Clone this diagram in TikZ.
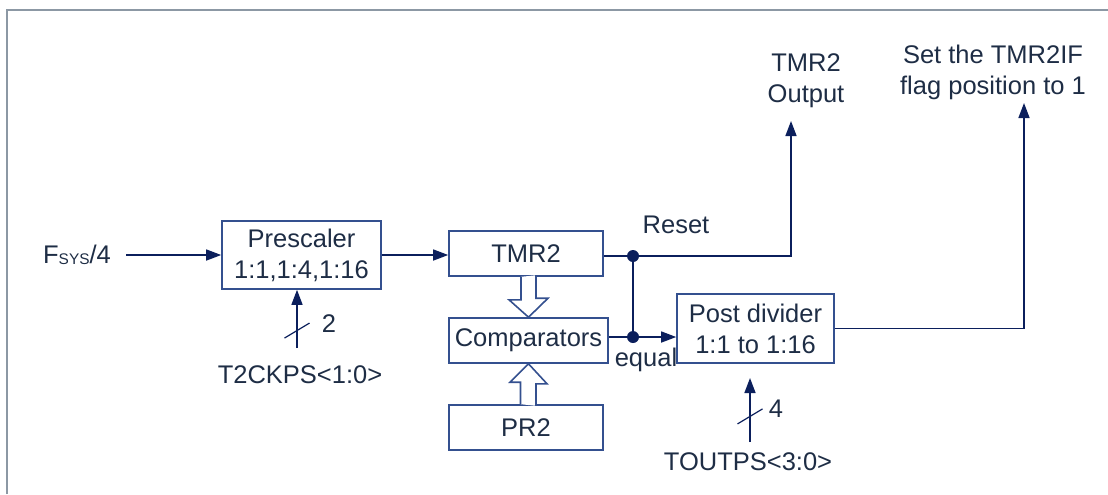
\documentclass[tikz,border=0pt]{standalone}
\usepackage{fontspec}
\setmainfont{Liberation Sans}
\definecolor{LineBlue}{HTML}{0B1F5C}
\definecolor{BoxBlue}{HTML}{34508F}
\definecolor{TextInk}{HTML}{1E2D45}
\definecolor{FrameGray}{HTML}{8C98A4}
\usetikzlibrary{arrows.meta, calc, decorations.markings}
\tikzset{
    blk/.style={draw=BoxBlue, line width=0.8pt, text=TextInk,
        font=\fontsize{12.75}{15.5}\selectfont, align=center, inner sep=0pt,
        minimum width=77pt, minimum height=22.5pt},
    lbl/.style={text=TextInk, font=\fontsize{12.75}{15.5}\selectfont,
        align=center, inner sep=0pt},
    wire/.style={draw=LineBlue, line width=0.75pt},
    sig/.style={wire, -{Triangle[length=7.5pt, width=5.5pt]}},
    hollow/.style={draw=BoxBlue, line width=0.8pt, fill=white},
    frame/.style={draw=FrameGray, line width=1pt},
    bus tick/.style={
        decoration={markings, mark=at position #1 with {
            \draw[-, LineBlue, line width=0.6pt] (-3.75pt,6.25pt) -- (3.75pt,-6.25pt);
        }}, postaction={decorate}
    }
}
\begin{document}
\begin{tikzpicture}[x=0.5pt, y=-0.5pt]
\useasboundingbox (0,0) rectangle (1108,494);

% Marco
\draw[frame] (7,494) -- (7,10) -- (1108,10);

% Bloques
\node[blk, minimum width=79.5pt, minimum height=34pt] (pre) at (301.5,255) {Prescaler\\1:1,1:4,1:16};
\node[blk] (tmr) at (526,253.5) {TMR2};
\node[blk, minimum width=79.5pt] (cmp) at (528.5,340.5) {Comparators};
\node[blk] (pr) at (526,427.5) {PR2};
\node[blk, minimum width=78.5pt, minimum height=34.5pt] (post) at (755.5,328.5) {Post divider\\1:1 to 1:16};

% Textos
\node[lbl] (fsys) at (77,255) {F{\fontsize{7.7}{8}\selectfont\raisebox{-0.5pt}{SYS}}/4};
\node[lbl] (t2ck) at (300,375) {T2CKPS<1:0>};
\node[lbl] (two) at (329,324) {2};
\node[lbl] (reset) at (676,225) {Reset};
\node[lbl] (equal) at (646,360) {equal};
\node[lbl] (tout) at (748,462) {TOUTPS<3:0>};
\node[lbl] (four) at (776,409) {4};
\node[lbl] (tmrout) at (806,81) {TMR2\\Output};
\node[lbl] (flag) at (993,72) {Set the TMR2IF\\flag position to 1};

\coordinate (dot1) at (633,256);
\coordinate (dot2) at (633,337);
\coordinate (outtip) at (791,121);
\coordinate (flagtip) at (1024,103);
\coordinate (t2in) at (297,348);
\coordinate (toutin) at (750,442);
\coordinate (toutend) at (750,378);

% Flechas huecas, luego de los bloques para tapar sus bordes
\draw[hollow] (cmp.north |- tmr.south) ++(-7.5,0) -- ++(0,23) -- ++(-12,0) -- (cmp.north)
    -- ++(19.5,-19) -- ++(-12,0) -- ++(0,-23);
\draw[hollow] (cmp.south |- pr.north) ++(-8,0) -- ++(0,-22) -- ++(-10.5,0) -- (cmp.south)
    -- ++(18.5,20) -- ++(-11,0) -- ++(0,22);

% Senales
\draw[sig, shorten <=7.5pt] (fsys.east) -- (pre.west);
\draw[sig] (pre.east) -- (pre.east -| tmr.west);
\draw[wire] (tmr.east |- dot1) -- (dot1);
\draw[wire] (dot1) -- (dot2);
\draw[wire] (cmp.east |- dot2) -- (dot2);
\draw[sig] (dot2) -- (dot2 -| post.west);
\draw[sig] (dot1) -| (outtip);
\draw[sig] (post.east) -| (flagtip);
\fill[LineBlue] (dot1) circle (3pt);
\fill[LineBlue] (dot2) circle (3pt);

\draw[sig, bus tick=0.3] (t2in) -- (t2in |- pre.south);
\draw[sig, bus tick=0.4] (toutin) -- (toutend);

\end{tikzpicture}
\end{document}
